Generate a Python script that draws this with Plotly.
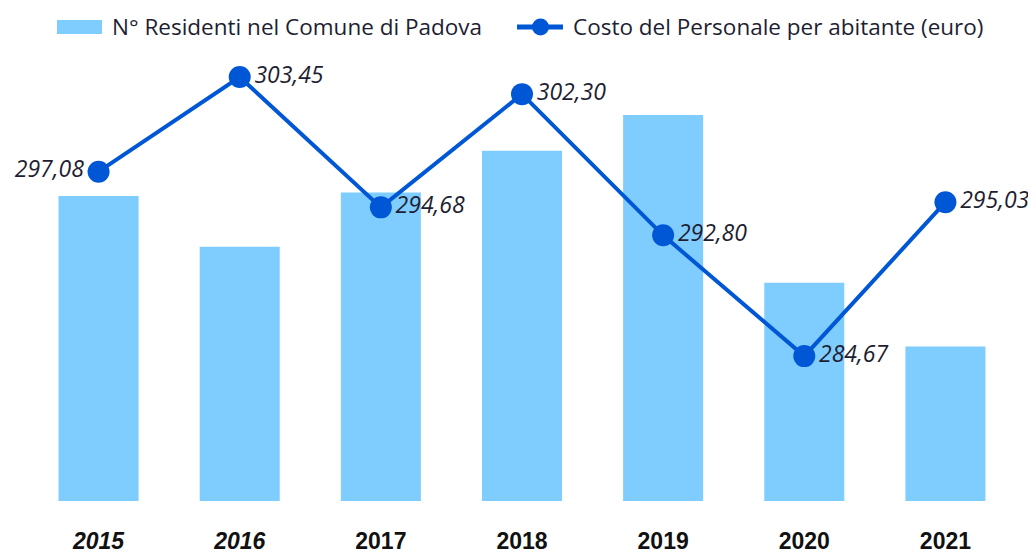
import plotly.graph_objects as go

years = ["2015", "2016", "2017", "2018", "2019", "2020", "2021"]
tick_labels = ["<b><i>2015</i></b>", "<b><i>2016</i></b>", "<b>2017</b>", "<b>2018</b>",
               "<b>2019</b>", "<b>2020</b>", "<b>2021</b>"]
residenti = [210401, 209829, 210440, 210912, 211316, 209420, 208702]
costo = [297.08, 303.45, 294.68, 302.30, 292.80, 284.67, 295.03]
costo_labels = ["297,08", "303,45", "294,68", "302,30", "292,80", "284,67", "295,03"]
label_pos = ["middle left"] + ["middle right"] * 6

BAR_COLOR = "#7FCCFF"
LINE_COLOR = "#0057D6"
TEXT_COLOR = "#1E1E32"

# page body has an 8px margin: figure is drawn from (8, 8) in the window
OFF = 8
W, H = 1036 - OFF, 553 - OFF
PL, PR, PT, PB = 28, 1016, 50, 501  # plot area in window pixels
L, R, T, B = PL - OFF, W - (PR - OFF), PT - OFF, H - (PB - OFF)

def px_x(x):
    return (x - PL) / (PR - PL)

def px_y(y):
    return (PB - y) / (PB - PT)

fig = go.Figure()
fig.add_trace(go.Bar(
    x=years, y=residenti, marker=dict(color=BAR_COLOR, line=dict(width=0)),
    name="N° Residenti nel Comune di Padova", showlegend=False, hoverinfo="skip"))
fig.add_trace(go.Scatter(
    x=years, y=costo, yaxis="y2", mode="lines+markers+text",
    line=dict(color=LINE_COLOR, width=4),
    marker=dict(color=LINE_COLOR, size=22),
    text=costo_labels, textposition=label_pos,
    textfont=dict(family="Open Sans", size=23, color=TEXT_COLOR, style="italic"),
    name="Costo del Personale per abitante (euro)", showlegend=False, cliponaxis=False))

fig.update_layout(
    width=W, height=H,
    margin=dict(l=L, r=R, t=T, b=B, autoexpand=False),
    paper_bgcolor="white", plot_bgcolor="white",
    bargap=0.433,
    xaxis=dict(tickmode="array", tickvals=years, ticktext=tick_labels,
               tickfont=dict(family="Liberation Sans", size=23, color="#111111"),
               showgrid=False, showline=False, zeroline=False, ticklabelstandoff=24,
               automargin=False),
    yaxis=dict(range=[206955, 212051], visible=False, showgrid=False),
    yaxis2=dict(range=[274.92, 305.27], overlaying="y", visible=False, showgrid=False),
    showlegend=False,
)

# manual legend
fig.add_shape(type="rect", xref="paper", yref="paper",
              x0=px_x(57), x1=px_x(102), y0=px_y(34), y1=px_y(20),
              fillcolor=BAR_COLOR, line=dict(width=0))
fig.add_shape(type="line", xref="paper", yref="paper",
              x0=px_x(517), x1=px_x(563), y0=px_y(27), y1=px_y(27),
              line=dict(color=LINE_COLOR, width=5))
fig.add_shape(type="circle", xref="paper", yref="paper",
              x0=px_x(532), x1=px_x(549), y0=px_y(35.5), y1=px_y(18.5),
              fillcolor=LINE_COLOR, line=dict(width=0))
fig.add_annotation(text="N° Residenti nel Comune di Padova", xref="paper", yref="paper",
                   x=px_x(110), y=px_y(27), xanchor="left", yanchor="middle", showarrow=False,
                   font=dict(family="Open Sans", size=22.5, color=TEXT_COLOR))
fig.add_annotation(text="Costo del Personale per abitante (euro)", xref="paper", yref="paper",
                   x=px_x(571), y=px_y(27), xanchor="left", yanchor="middle", showarrow=False,
                   font=dict(family="Open Sans", size=22.5, color=TEXT_COLOR))

fig.write_html("out.html")
